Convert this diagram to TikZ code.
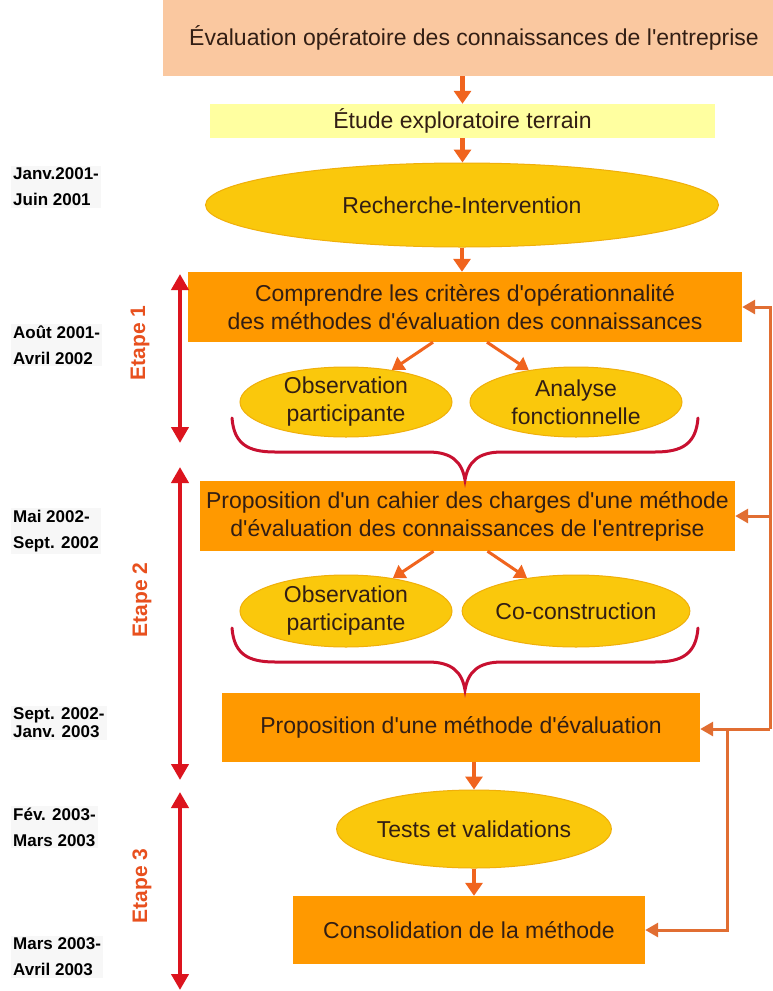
\documentclass[tikz,border=0pt]{standalone}
\usepackage{fontspec}
\setmainfont{Liberation Sans}[Ligatures=TeXOff]
\definecolor{peach}{RGB}{250, 200, 160}
\definecolor{paleyellow}{RGB}{255, 255, 160}
\definecolor{gold}{RGB}{250, 200, 12}
\definecolor{goldedge}{RGB}{240, 175, 10}
\definecolor{boxorange}{RGB}{255, 153, 0}
\definecolor{arrorange}{RGB}{240, 100, 30}
\definecolor{fbbrown}{RGB}{225, 110, 50}
\definecolor{braceRed}{RGB}{200, 16, 48}
\definecolor{timeRed}{RGB}{220, 20, 30}
\definecolor{etapeRed}{RGB}{232, 80, 30}
\definecolor{txtdark}{RGB}{50, 30, 20}
\usetikzlibrary{shapes.geometric, arrows.meta, positioning, calc}
\newcommand{\boxfont}{\fontsize{23}{28}\selectfont}
\newcommand{\datefont}{\fontsize{17}{26}\selectfont\bfseries}

\begin{document}
\begin{tikzpicture}[x=1pt, y=-1pt,
  flowbox/.style={rectangle, font=\boxfont, text=txtdark, align=center, inner sep=0pt},
  oval/.style={ellipse, fill=gold, draw=goldedge, line width=1pt, font=\boxfont, text=txtdark, align=center, inner sep=0pt},
  arr/.style={-{Triangle[width=17pt, length=13pt]}, line width=4.5pt, arrorange},
  slant/.style={-{Triangle[width=15pt, length=12pt]}, line width=3pt, arrorange},
  fb/.style={-{Triangle[width=14pt, length=13pt]}, line width=3pt, fbbrown},
  timeline/.style={{Triangle[width=17pt, length=16pt]}-{Triangle[width=17pt, length=16pt]}, line width=4pt, timeRed},
  bracepath/.style={line width=3pt, braceRed, line cap=round},
  datelbl/.style={font=\datefont, align=left, anchor=west, fill=black!3, inner sep=2pt},
  etapelbl/.style={font=\fontsize{21}{24}\selectfont\bfseries, text=etapeRed, rotate=90}]

  \useasboundingbox[fill=white] (0,0) rectangle (773,991);

  % main column
  \node[flowbox, fill=peach, minimum width=622pt, minimum height=76pt] (top) at (474,38)
    {Évaluation opératoire des connaissances de l'entreprise};
  \node[flowbox, fill=paleyellow, minimum width=505pt, minimum height=34pt] (etude) at (462.5,121)
    {Étude exploratoire terrain};
  \node[oval, minimum width=513pt, minimum height=84pt] (rech) at (462,205)
    {Recherche-Intervention};
  \node[flowbox, fill=boxorange, minimum width=554pt, minimum height=70pt] (comp) at (465,307)
    {Comprendre les critères d'opérationnalité\\des méthodes d'évaluation des connaissances};
  \node[oval, minimum width=212pt, minimum height=70pt] (obs1) at (346,402)
    {Observation\\participante};
  \node[oval, minimum width=212pt, minimum height=70pt] (ana) at (576,402)
    {Analyse\\fonctionnelle};
  \node[flowbox, fill=boxorange, minimum width=535pt, minimum height=70pt] (cahier) at (467.5,516)
    {Proposition d'un cahier des charges d'une méthode\\d'évaluation des connaissances de l'entreprise};
  \node[oval, minimum width=212pt, minimum height=72pt] (obs2) at (346,611)
    {Observation\\participante};
  \node[oval, minimum width=212pt, minimum height=72pt] (cocon) at (576,611)
    {Co-construction};
  \node[flowbox, fill=boxorange, minimum width=478pt, minimum height=69pt] (methode) at (461,727.5)
    {Proposition d'une méthode d'évaluation};
  \node[oval, minimum width=272pt, minimum height=78pt] (tests) at (474,829)
    {Tests et validations};
  \node[flowbox, fill=boxorange, minimum width=352pt, minimum height=68pt] (conso) at (469,930)
    {Consolidation de la méthode};

  \draw[arr] (top.south -| etude.north) -- (etude.north);
  \draw[arr] (etude.south) -- (etude.south |- rech.north);
  \draw[arr] (rech.south) -- (rech.south |- comp.north);
  \draw[slant] ([xshift=-32pt]comp.south) -- (obs1.35);
  \draw[slant] ([xshift=22pt]comp.south) -- (ana.146);
  \draw[slant] ([xshift=-34pt]cahier.south) -- (obs2.35);
  \draw[slant] ([xshift=20pt]cahier.south) -- (cocon.146);
  \draw[arr] (methode.south -| tests.north) -- (tests.north);
  \draw[arr] (tests.south) -- (tests.south |- conso.north);

  % braces
  \draw[bracepath] (232,418) .. controls (234,444) and (248,452) .. (275,452) -- (428,452)
    .. controls (452,452) and (462,462) .. (465,480)
    .. controls (468,462) and (478,452) .. (502,452) -- (655,452)
    .. controls (682,452) and (696,444) .. (698,418);
  \draw[bracepath] (232,628) .. controls (234,654) and (248,662) .. (275,662) -- (428,662)
    .. controls (452,662) and (462,672) .. (465,690)
    .. controls (468,672) and (478,662) .. (502,662) -- (655,662)
    .. controls (682,662) and (696,654) .. (698,628);

  % feedback loops
  \coordinate (fbout) at (770,729);
  \coordinate (fbin) at (727,729);
  \draw[fb] (fbout) |- (comp.east);
  \draw[fb] (fbout |- cahier.east) -- (cahier.east);
  \draw[fb] (fbout) -- (fbout -| methode.east);
  \draw[fb] (fbin) |- (conso.east);

  % timeline
  \coordinate (e1a) at (180,274);
  \coordinate (e1b) at (180,443);
  \coordinate (e2a) at (180,467);
  \coordinate (e2b) at (180,780);
  \coordinate (e3a) at (180,792);
  \coordinate (e3b) at (180,990);
  \draw[timeline] (e1a) -- (e1b);
  \draw[timeline] (e2a) -- (e2b);
  \draw[timeline] (e3a) -- (e3b);
  \node[etapelbl] (et1) at (140,343) {Etape 1};
  \node[etapelbl] (et2) at (142,600) {Etape 2};
  \node[etapelbl] (et3) at (142,886) {Etape 3};

  % dates
  \node[datelbl] (d1) at (11,187) {Janv.2001-\\Juin 2001};
  \node[datelbl] (d2) at (11,345) {Août 2001-\\Avril 2002};
  \node[datelbl] (d3) at (11,531) {Mai 2002-\\Sept. 2002};
  \node[datelbl] (d4) at (11,723) {Sept. 2002-\\[-8pt]Janv. 2003};
  \node[datelbl] (d5) at (11,827) {Fév. 2003-\\Mars 2003};
  \node[datelbl] (d6) at (11,957) {Mars 2003-\\Avril 2003};
\end{tikzpicture}
\end{document}
